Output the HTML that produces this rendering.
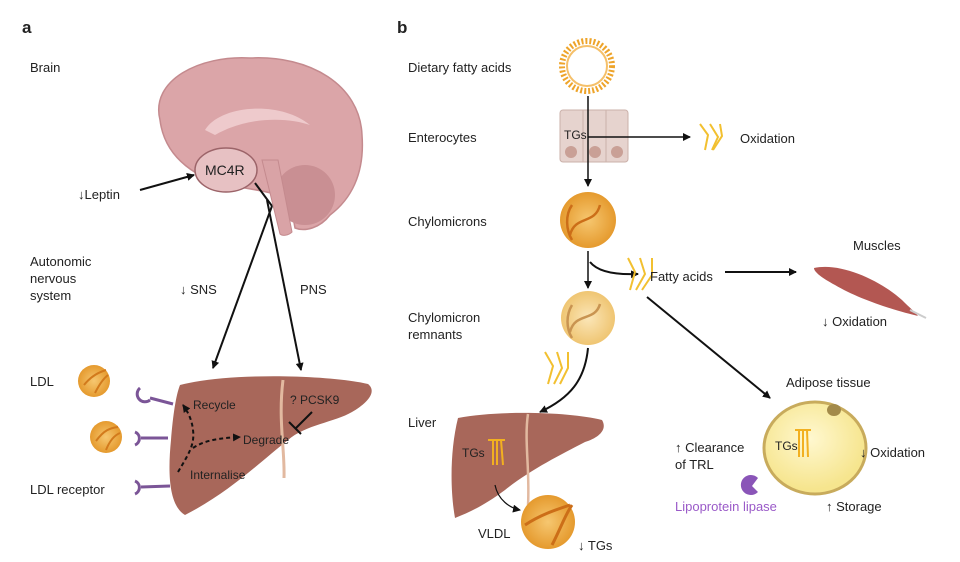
<!DOCTYPE html>
<html><head><meta charset="utf-8"><style>
body{margin:0;background:#fff}
svg{display:block}
text{font-family:"Liberation Sans",sans-serif;font-size:13px;fill:#222}
</style></head><body>
<svg width="960" height="562" viewBox="0 0 960 562" xmlns="http://www.w3.org/2000/svg">
<defs>
<marker id="ar" markerWidth="8" markerHeight="8" refX="7" refY="4" orient="auto" markerUnits="userSpaceOnUse"><path d="M0,0 L8,4 L0,8 Z" fill="#111"/></marker>
<radialGradient id="ball" cx="50%" cy="50%" r="50%"><stop offset="0" stop-color="#f6c770"/><stop offset="1" stop-color="#e59a2e"/></radialGradient>
<radialGradient id="rem" cx="50%" cy="50%" r="50%"><stop offset="0" stop-color="#fbe6b8"/><stop offset="1" stop-color="#efc572"/></radialGradient>
<radialGradient id="fat" cx="45%" cy="40%" r="55%"><stop offset="0" stop-color="#fff8d0"/><stop offset="1" stop-color="#f6e58e"/></radialGradient>
</defs>
<text x="22" y="33" style="font-weight:bold;font-size:17px">a</text>
<text x="397" y="33" style="font-weight:bold;font-size:17px">b</text>

<!-- Brain -->
<path d="M160,120 C150,80 200,55 250,58 C310,55 360,85 362,135 C365,175 350,200 330,215 C320,228 305,232 295,228 L290,200 C270,190 250,190 230,185 C200,180 165,160 160,120 Z" fill="#dba5a8" stroke="#c48a8e" stroke-width="1.5"/>
<path d="M205,130 C220,105 280,100 310,125 C290,118 250,115 215,135 Z" fill="#eecacc"/>
<ellipse cx="305" cy="195" rx="30" ry="30" fill="#c98f93"/>
<path d="M262,160 L278,160 L292,232 C288,236 282,236 280,234 Z" fill="#d9a3a6" stroke="#c48a8e"/>
<ellipse cx="226" cy="170" rx="31" ry="22" fill="#e7c1c3" stroke="#9c6469" stroke-width="1.5"/>
<text x="205" y="175" style="font-size:14px">MC4R</text>
<text x="30" y="72">Brain</text>
<text x="78" y="199">↓Leptin</text>
<line x1="140" y1="190" x2="194" y2="175" stroke="#111" stroke-width="2" marker-end="url(#ar)"/>
<line x1="255" y1="183" x2="272" y2="206" stroke="#111" stroke-width="2"/>
<line x1="272" y1="206" x2="213" y2="368" stroke="#111" stroke-width="2" marker-end="url(#ar)"/>
<line x1="267" y1="200" x2="301" y2="370" stroke="#111" stroke-width="2" marker-end="url(#ar)"/>
<text x="180" y="294">↓ SNS</text>
<text x="300" y="294">PNS</text>
<text x="30" y="266">Autonomic</text>
<text x="30" y="283">nervous</text>
<text x="30" y="300">system</text>

<!-- Liver a -->
<path d="M180,385 C230,372 330,375 368,384 C378,392 366,404 352,412 C335,422 305,425 288,440 C260,462 230,492 185,515 C168,505 168,470 171,440 C173,415 176,395 180,385 Z" fill="#a8675a"/>
<path d="M283,380 C278,420 285,450 284,478" stroke="#e2b9a0" stroke-width="3" fill="none"/>
<text x="193" y="409" style="font-size:12px">Recycle</text>
<text x="243" y="444" style="font-size:12px">Degrade</text>
<text x="190" y="479" style="font-size:12px">Internalise</text>
<text x="290" y="404" style="font-size:12px">? PCSK9</text>
<path d="M178,472 C188,455 195,445 193,430 C192,420 188,412 183,405" stroke="#111" stroke-width="2" stroke-dasharray="4,3" fill="none" marker-end="url(#ar)"/>
<path d="M193,448 C205,440 220,438 240,437" stroke="#111" stroke-width="2" stroke-dasharray="4,3" fill="none" marker-end="url(#ar)"/>
<line x1="312" y1="412" x2="296" y2="428" stroke="#111" stroke-width="2"/>
<line x1="289" y1="422" x2="301" y2="434" stroke="#111" stroke-width="2"/>
<text x="30" y="386">LDL</text>
<text x="30" y="494">LDL receptor</text>
<circle cx="94" cy="381" r="16" fill="url(#ball)"/>
<circle cx="106" cy="437" r="16" fill="url(#ball)"/>
<path d="M84,385 C92,375 100,372 106,370 M95,393 C100,383 104,378 108,375" stroke="#d27a1c" stroke-width="2" fill="none"/>
<path d="M96,441 C104,430 110,428 118,427 M106,450 C110,440 115,435 120,433" stroke="#d27a1c" stroke-width="2" fill="none"/>
<g stroke="#7b5597" stroke-width="3" fill="none">
<path d="M140,388 A7,7 0 0,0 150,400"/><line x1="150" y1="398" x2="173" y2="404"/>
<path d="M135,432 A7,7 0 0,1 135,445"/><line x1="141" y1="438" x2="168" y2="438"/>
<path d="M135,481 A7,7 0 0,1 135,494"/><line x1="141" y1="487" x2="170" y2="486"/>
</g>

<!-- Panel b -->
<text x="408" y="72">Dietary fatty acids</text>
<circle cx="587" cy="66" r="25" fill="none" stroke="#eea42a" stroke-width="6" stroke-dasharray="2,2"/>
<circle cx="587" cy="66" r="20" fill="none" stroke="#f5c06a" stroke-width="2"/>
<text x="408" y="142">Enterocytes</text>
<rect x="560" y="110" width="68" height="52" rx="3" fill="#e6d3ce" stroke="#cbb1aa"/>
<line x1="583" y1="110" x2="583" y2="162" stroke="#cbb1aa"/><line x1="606" y1="110" x2="606" y2="162" stroke="#cbb1aa"/>
<circle cx="571" cy="152" r="6" fill="#c9a096"/><circle cx="595" cy="152" r="6" fill="#c9a096"/><circle cx="617" cy="152" r="6" fill="#c9a096"/>
<text x="564" y="139" style="font-size:12px">TGs</text>
<line x1="588" y1="96" x2="588" y2="186" stroke="#111" stroke-width="1.5" marker-end="url(#ar)"/>
<line x1="588" y1="137" x2="690" y2="137" stroke="#111" stroke-width="1.5" marker-end="url(#ar)"/>
<g stroke="#f2c030" stroke-width="2" fill="none">
<path d="M700,124 L708,135 L705,150"/><path d="M710,124 L718,137 L712,150"/><path d="M720,124 L722,136 L713,150"/>
</g>
<text x="740" y="143">Oxidation</text>
<text x="408" y="226">Chylomicrons</text>
<circle cx="588" cy="220" r="28" fill="url(#ball)"/>
<path d="M570,235 C575,215 595,225 600,205 M572,205 C565,215 566,230 572,240" stroke="#cc6e18" stroke-width="2.5" fill="none"/>
<line x1="588" y1="251" x2="588" y2="288" stroke="#111" stroke-width="1.5" marker-end="url(#ar)"/>
<path d="M590,262 C598,272 615,275 638,274" stroke="#111" stroke-width="2" fill="none" marker-end="url(#ar)"/>
<g stroke="#f2c030" stroke-width="2" fill="none">
<path d="M628,258 L635,272 L630,290"/><path d="M640,258 L645,274 L636,290"/><path d="M652,258 L652,275 L642,290"/>
</g>
<text x="650" y="281">Fatty acids</text>
<text x="853" y="250">Muscles</text>
<path d="M814,268 C840,262 880,280 902,300 C910,308 915,312 918,316 C900,312 860,300 835,285 C822,278 814,272 814,268 Z" fill="#b35752"/>
<line x1="910" y1="310" x2="926" y2="318" stroke="#ccc" stroke-width="2"/>
<line x1="725" y1="272" x2="796" y2="272" stroke="#111" stroke-width="2" marker-end="url(#ar)"/>
<text x="822" y="326">↓ Oxidation</text>
<text x="408" y="322">Chylomicron</text>
<text x="408" y="339">remnants</text>
<circle cx="588" cy="318" r="27" fill="url(#rem)"/>
<path d="M570,332 C575,312 595,322 600,304 M572,305 C566,315 566,328 572,338" stroke="#c99451" stroke-width="2.5" fill="none"/>
<line x1="647" y1="297" x2="770" y2="398" stroke="#111" stroke-width="2" marker-end="url(#ar)"/>
<g stroke="#f2c030" stroke-width="2" fill="none">
<path d="M545,352 L553,366 L548,384"/><path d="M557,352 L562,368 L554,384"/><path d="M568,352 L568,368 L560,384"/>
</g>
<path d="M588,348 C585,380 570,398 540,412" stroke="#111" stroke-width="2" fill="none" marker-end="url(#ar)"/>
<text x="408" y="427">Liver</text>
<path d="M458,418 C500,410 570,412 602,420 C608,430 598,438 585,442 C560,455 530,470 505,490 C485,505 470,512 455,518 C450,490 450,450 458,418 Z" fill="#a8675a"/>
<path d="M528,414 C524,440 530,470 528,505" stroke="#e2b9a0" stroke-width="2.5" fill="none"/>
<text x="462" y="457" style="font-size:12px">TGs</text>
<g stroke="#f2b020" stroke-width="2"><line x1="493" y1="440" x2="493" y2="465"/><line x1="497" y1="440" x2="497" y2="465"/><line x1="501" y1="440" x2="503" y2="465"/><line x1="488" y1="440" x2="505" y2="440"/></g>
<path d="M495,485 C498,500 510,508 520,510" stroke="#111" stroke-width="1.2" fill="none" marker-end="url(#ar)"/>
<circle cx="548" cy="522" r="27" fill="url(#ball)"/>
<path d="M525,525 C540,515 555,510 570,505 M552,545 C560,530 565,515 572,505" stroke="#cc6e18" stroke-width="3" fill="none"/>
<text x="478" y="538">VLDL</text>
<text x="578" y="550">↓ TGs</text>
<text x="786" y="387">Adipose tissue</text>
<ellipse cx="815" cy="448" rx="51" ry="46" fill="url(#fat)" stroke="#c8ab5c" stroke-width="3"/>
<ellipse cx="834" cy="410" rx="7" ry="6" fill="#a38a4a"/>
<text x="775" y="450" style="font-size:12px">TGs</text>
<g stroke="#f2b020" stroke-width="2"><line x1="799" y1="430" x2="799" y2="457"/><line x1="803" y1="430" x2="803" y2="457"/><line x1="807" y1="430" x2="808" y2="457"/><line x1="795" y1="430" x2="811" y2="430"/></g>
<text x="860" y="457">↓ Oxidation</text>
<text x="675" y="452">↑ Clearance</text>
<text x="675" y="469">of TRL</text>
<path d="M758,478 A10,10 0 1,0 758,492 L752,486 Z" fill="#8a55b8"/>
<text x="675" y="511" style="fill:#9a5ac8">Lipoprotein lipase</text>
<text x="826" y="511">↑ Storage</text>
</svg>
</body></html>
